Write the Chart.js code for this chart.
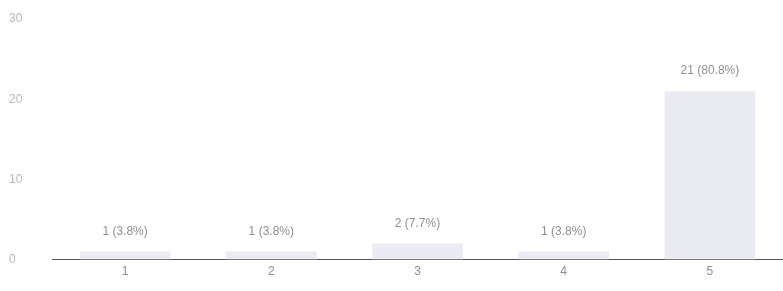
<!DOCTYPE html>
<html>
<head>
<meta charset="utf-8">
<script src="https://cdn.jsdelivr.net/npm/chart.js@4/dist/chart.umd.min.js"></script>
<style>
  html, body { margin: 0; padding: 0; background: #fff; }
  #wrap { width: 783px; height: 291px; }
</style>
</head>
<body>
<div id="wrap"><canvas id="grafico"></canvas></div>
<script>
const categorias = ['1', '2', '3', '4', '5'];
const respostas = [1, 1, 2, 1, 21];
const rotulos = ['1 (3.8%)', '1 (3.8%)', '2 (7.7%)', '1 (3.8%)', '21 (80.8%)'];

// escreve o rotulo em cima de cada barra
const rotuloBarras = {
    id: 'rotuloBarras',
    afterDatasetsDraw(chart) {
        const ctx = chart.ctx;
        const meta = chart.getDatasetMeta(0);
        ctx.save();
        ctx.font = '12px "Liberation Sans", Arial, sans-serif';
        ctx.fillStyle = '#8f8f8f';
        ctx.textAlign = 'center';
        ctx.textBaseline = 'bottom';
        meta.data.forEach((bar, i) => {
            ctx.fillText(rotulos[i], bar.x, bar.y - 14);
        });
        ctx.restore();
    }
};

const ctx = document.getElementById('grafico').getContext('2d');
const grafico = new Chart(ctx, {
    type: 'bar',
    data: {
        labels: categorias,
        datasets: [{
            data: respostas,
            backgroundColor: '#ebebf4',
            borderWidth: 0,
            barPercentage: 0.62,
            categoryPercentage: 1
        }]
    },
    options: {
        responsive: true,
        maintainAspectRatio: false,
        animation: false,
        layout: { padding: { top: 19, left: 9, right: 0, bottom: 7 } },
        plugins: {
            legend: { display: false },
            tooltip: { enabled: false }
        },
        scales: {
            x: {
                grid: { display: false, drawTicks: false },
                border: { display: true, color: '#555', width: 1 },
                ticks: {
                    padding: 5,
                    color: '#8f8f8f',
                    font: { size: 12, family: '"Liberation Sans", Arial, sans-serif' }
                }
            },
            y: {
                min: 0,
                max: 30,
                grid: { display: false, drawTicks: false },
                border: { display: false },
                afterFit(scale) { scale.width = 43; },
                ticks: {
                    stepSize: 10,
                    crossAlign: 'far',
                    color: '#b8b8b8',
                    font: { size: 12, family: '"Liberation Sans", Arial, sans-serif' }
                }
            }
        }
    },
    plugins: [rotuloBarras]
});
</script>
</body>
</html>
